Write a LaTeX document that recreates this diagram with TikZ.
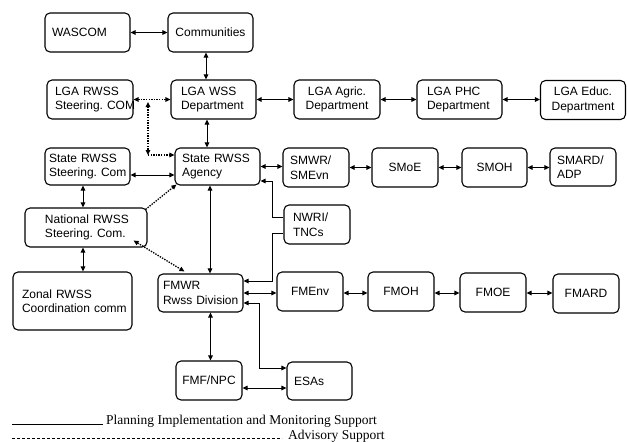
\documentclass[tikz,border=0pt]{standalone}
\usepackage{fontspec}
\setmainfont{Liberation Sans}
\newfontfamily\legfont{Liberation Serif}
\usetikzlibrary{arrows.meta,calc}
\hyphenpenalty=10000
\exhyphenpenalty=10000
\tikzset{
  bx/.style={draw, rounded corners=5pt, line width=1.1pt, minimum height=39pt, inner ysep=1pt, font=\fontsize{12}{14.5}\selectfont},
  cb/.style={bx, align=center, minimum width=#1, inner xsep=2pt},
  lb/.style n args={2}{bx, align=left, text width=#1, inner xsep=#2},
  con/.style={line width=1pt, <->},
  one/.style={line width=1pt, ->},
  dotc/.style={line width=1.3pt, dash pattern=on 1.4pt off 1.2pt},
  leg/.style={font=\legfont\fontsize{13.5}{16}\selectfont, anchor=base west, inner sep=0pt}
}
\begin{document}
\begin{tikzpicture}[x=1pt,y=-1pt, >={Triangle[length=5pt,width=4.5pt]}]
\useasboundingbox (0,0) rectangle (627,442);
% boxes
\node[lb={71pt}{7pt}] (wascom) at (87.5,32.5) {WASCOM};
\node[cb=85pt] (comm) at (210.5,32.5) {Communities};
\node[lb={70pt}{8pt}] (lrsc) at (90,99.5) {LGA~RWSS\\Steering.~COM};
\node[lb={65pt}{10pt}] (lwss) at (213.5,99.5) {LGA~WSS\\Department};
\node[cb=86pt] (lagr) at (337,99.5) {LGA~Agric.\\Department};
\node[lb={65pt}{10pt}] (lphc) at (459.5,99.5) {LGA~PHC\\Department};
\node[cb=85pt] (ledu) at (583,100) {LGA~Educ.\\Department};
\node[lb={77pt}{4pt}, minimum height=37pt] (ssc) at (87.5,166.5) {State~RWSS\\Steering.~Com};
\node[lb={71pt}{7pt}, minimum height=37pt] (sra) at (217.5,166.5) {State~RWSS\\Agency};
\node[lb={52pt}{7pt}] (smwr) at (316,167.5) {SMWR/\\SMEvn};
\node[cb=66pt] (smoe) at (405,167.5) {SMoE};
\node[cb=65pt] (smoh) at (494.5,167.5) {SMOH};
\node[lb={52pt}{7pt}, minimum height=38pt] (smard) at (583,167) {SMARD/\\ADP};
\node[lb={48pt}{9pt}] (nwri) at (317,224.5) {NWRI/\\TNCs};
\node[lb={82pt}{20pt}] (nrsc) at (86,227.5) {National~RWSS\\Steering.~Com.};
\node[lb={101pt}{9pt}, minimum height=58pt] (zonal) at (72.5,301) {Zonal~RWSS\\Coordination~comm};
\node[lb={75pt}{5pt}, minimum height=38pt] (fmwr) at (200.5,293) {FMWR\\Rwss~Division};
\node[cb=66pt] (fmf) at (209,380.5) {FMF/NPC};
\node[lb={51pt}{7pt}, minimum height=38pt] (esas) at (319.5,381) {ESAs};
\node[cb=66pt] (fmenv) at (310,291.5) {FMEnv};
\node[cb=66pt] (fmoh) at (401,291.5) {FMOH};
\node[cb=66pt] (fmoe) at (493,292.5) {FMOE};
\node[cb=66pt] (fmard) at (586,293.5) {FMARD};
% solid connectors
\draw[con] (wascom.east) -- (comm.west);
\coordinate (c1) at ([xshift=-4.5pt]comm.south);
\draw[con] (c1) -- (c1 |- lwss.north);
\coordinate (c2) at ([xshift=-6.5pt]lwss.south);
\draw[con] (c2) -- (c2 |- sra.north);
\draw[con] (lwss.east) -- (lagr.west);
\draw[con] (lagr.east) -- (lphc.west);
\draw[con] (lphc.east) -- (ledu.west |- lphc.east);
\draw[con] ($(ssc.east)+(0,8.5)$) -- ($(sra.west)+(0,8.5)$);
\coordinate (c3) at ([xshift=-4.5pt]ssc.south);
\draw[con] (c3) -- (c3 |- nrsc.north);
\coordinate (c4) at ([xshift=-3pt]nrsc.south);
\draw[con] (c4) -- (c4 |- zonal.north);
\coordinate (c5) at ([xshift=-7.5pt]sra.south);
\draw[con] (c5) -- (c5 |- fmwr.north);
\draw[con] (sra.east) -- (sra.east -| smwr.west);
\draw[con] (smwr.east) -- (smoe.west);
\draw[con] (smoe.east) -- (smoh.west);
\draw[con] (smoh.east) -- (smoh.east -| smard.west);
\draw[one] ($(nwri.west)+(0,-7.5)$) -- ++(-11,0) |- ($(sra.east)+(0,14.5)$);
\draw[one] ($(nwri.west)+(0,8.5)$) -- ++(-11,0) |- ($(fmwr.east)+(0,-12)$);
\draw[con] (fmwr.east) -- (fmwr.east -| fmenv.west);
\draw[con] (fmenv.east |- fmwr.east) -- (fmwr.east -| fmoh.west);
\draw[con] (fmoh.east |- fmwr.east) -- (fmwr.east -| fmoe.west);
\draw[con] (fmoe.east |- fmwr.east) -- (fmwr.east -| fmard.west);
\draw[con] ($(fmwr.east)+(0,10)$) -- ++(16,0) |- ($(esas.west)+(0,-13)$);
\coordinate (c6) at ([xshift=10pt]fmwr.south);
\draw[con] (c6) -- (c6 |- fmf.north);
\coordinate (c7) at ($(fmf.east)+(0,7.5)$);
\draw[con] (c7) -- (c7 -| esas.west);
% dotted (advisory) connectors
\draw[dotc,<->] (lrsc.east) -- (lwss.west);
\coordinate (d1) at (148,102);
\coordinate (d2) at (148,155);
\draw[dotc,<->] (d1) -- (d2);
\draw[dotc,->] (d2) -- (d2 -| sra.west);
\draw[dotc,->] ($(nrsc.north east)+(-2,2)$) -- ($(sra.south west)+(2,-1)$);
\draw[dotc,<->] ($(nrsc.south east)+(-14,-7)$) -- ($(fmwr.north west)+(27,-2)$);
% legend
\node[leg] (legA) at (106,424.5) {Planning Implementation and Monitoring Support};
\node[leg] (legB) at (288,439) {Advisory Support};
\coordinate (la) at (12,424.5);
\draw[line width=0.8pt] (la) -- ($(legA.base west)+(-3,0)$);
\coordinate (lbb) at (12,438.5);
\draw[line width=0.8pt, dash pattern=on 3pt off 2pt] (lbb) -- ($(legB.base west)+(-6,-0.5)$);
\end{tikzpicture}
\end{document}
